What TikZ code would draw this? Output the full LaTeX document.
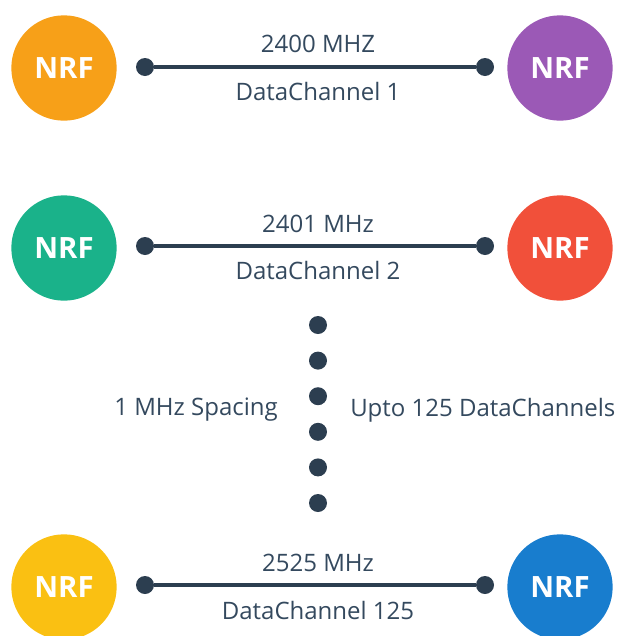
\documentclass[tikz,border=0pt]{standalone}
\usepackage{fontspec}
\setmainfont{Open Sans}
\usepackage{tikz}
\usetikzlibrary{positioning}

\definecolor{dotgray}{RGB}{44,62,80}
\definecolor{txtgray}{RGB}{52,73,94}
\definecolor{nrforange}{RGB}{247,160,24}
\definecolor{nrfpurple}{RGB}{155,89,182}
\definecolor{nrfgreen}{RGB}{26,178,138}
\definecolor{nrfred}{RGB}{241,80,58}
\definecolor{nrfyellow}{RGB}{250,192,18}
\definecolor{nrfblue}{RGB}{24,125,206}

\begin{document}
\begin{tikzpicture}[x=0.75pt,y=0.75pt,yscale=-1,xscale=1,
    nrf/.style={circle, minimum size=79pt, inner sep=0pt, text=white, font=\fontsize{22}{24}\selectfont\bfseries},
    pin/.style={circle, fill=dotgray, minimum size=13.5pt, inner sep=0pt},
    link/.style={draw=dotgray, line width=2.4pt},
    lbl/.style={text=txtgray, font=\fontsize{18}{20}\selectfont, inner sep=0.75pt}]
    \useasboundingbox (0,0) rectangle (620,636);

    % Circles
    \node (nrfA) [nrf, fill=nrforange] at (64,68) {NRF};
    \node (nrfB) [nrf, fill=nrfpurple] at (560,68) {NRF};
    \node (nrfC) [nrf, fill=nrfgreen] at (64,248) {NRF};
    \node (nrfD) [nrf, fill=nrfred] at (560,248) {NRF};
    \node (nrfE) [nrf, fill=nrfyellow] at (64,587) {NRF};
    \node (nrfF) [nrf, fill=nrfblue] at (560,587) {NRF};

    % Channel ends
    \node (pinA) [pin] at (145,67) {};
    \node (pinB) [pin] at (485,67) {};
    \node (pinC) [pin] at (145,246) {};
    \node (pinD) [pin] at (485,246) {};
    \node (pinE) [pin] at (145,585) {};
    \node (pinF) [pin] at (485,585) {};

    % Straight Lines
    \draw [link] (pinA) -- (pinB);
    \draw [link] (pinC) -- (pinD);
    \draw [link] (pinE) -- (pinF);

    % Text Node
    \node (frqA) [lbl] at (318,44) {2400 MHZ};
    \node (chA) [lbl] at (318,91) {DataChannel 1};
    \node (frqB) [lbl] at (318,224) {2401 MHz};
    \node (chB) [lbl] at (318,270) {DataChannel 2};
    \node (frqC) [lbl] at (318,563) {2525 MHz};
    \node (chC) [lbl] at (318,610) {DataChannel 125};

    % Vertical dots
    \foreach \i in {0,...,5}
        \node (gap\i) [pin] at (318,325+35.6*\i) {};

    % Text Node
    \node (spc) [lbl, anchor=east] at (279,410) {1 MHz Spacing};
    \node (upto) [lbl, anchor=west] at (349,410) {Upto 125 DataChannels};
\end{tikzpicture}
\end{document}
